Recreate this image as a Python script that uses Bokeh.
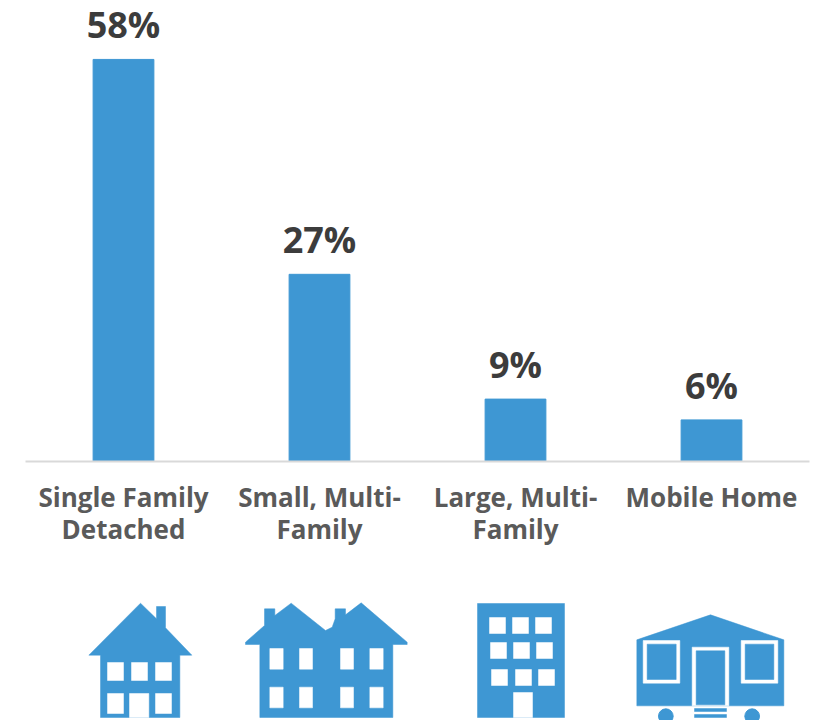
from bokeh.plotting import figure
from bokeh.layouts import column
from bokeh.models import ColumnDataSource, FactorRange, Range1d
from bokeh.core.properties import value
from bokeh.embed import file_html
from bokeh.resources import INLINE

categories = ["Single Family\nDetached", "Small, Multi-\nFamily", "Large, Multi-\nFamily", "Mobile Home"]
shares = [58, 27, 9, 6]
share_labels = ["58%", "27%", "9%", "6%"]

BLUE = "#3e97d3"
FONT = "Open Sans"
src = ColumnDataSource(dict(cat=categories, share=shares, lab=share_labels))

p = figure(width=821, height=580, x_range=FactorRange(*categories, range_padding=0, factor_padding=0),
           y_range=Range1d(0, 66.5), output_backend="svg", toolbar_location=None,
           min_border_left=25, min_border_right=12, min_border_top=0, min_border_bottom=119,
           outline_line_color=None, background_fill_color="white")
p.vbar(x="cat", top="share", width=0.31, source=src, color=BLUE)
p.text(x="cat", y="share", text="lab", source=src, text_align="center", text_baseline="bottom",
       y_offset=-10, text_font=value(FONT), text_font_style="bold", text_font_size="36px", text_color="#3c3c3c")
p.grid.visible = False
p.yaxis.visible = False
ax = p.xaxis[0]
ax.axis_line_color = "#d9d9d9"
ax.axis_line_width = 2
ax.major_tick_line_color = None
ax.minor_tick_line_color = None
ax.major_label_standoff = 11
ax.major_label_orientation = "horizontal"
ax.major_label_text_font = FONT
ax.major_label_text_font_style = "bold"
ax.major_label_text_font_size = "26px"
ax.major_label_text_line_height = 0.9
ax.major_label_text_color = "#5a5a5a"

q = figure(width=821, height=140, x_range=Range1d(25, 809), y_range=Range1d(720, 580),
           output_backend="svg", toolbar_location=None, min_border=0,
           min_border_left=25, min_border_right=12,
           outline_line_color=None, background_fill_color="white")
q.grid.visible = False
q.axis.visible = False


def poly(pts, origin_x, color):
    q.patch([origin_x + a / 3 for a, _ in pts], [590 + b / 3 for _, b in pts], color=color, line_color=color, line_width=0.5)


def rect(x0, x1, y0, y1, origin_x, color="white"):
    poly([(x0, y0), (x1, y0), (x1, y1), (x0, y1)], origin_x, color)


# single family house
poly([(85, 194), (240, 38), (288, 85), (288, 48), (315, 48), (315, 112), (394, 194), (358, 194),
      (358, 381), (120, 381), (120, 194)], 60, BLUE)
for x0, x1 in [(141, 189), (213, 261), (285, 333)]:
    rect(x0, x1, 216, 270, 60)
for x0, x1 in [(141, 189), (285, 333)]:
    rect(x0, x1, 309, 369, 60)
rect(207, 265, 309, 381, 60)

# small multi-family
poly([(555, 155), (612, 105), (612, 55), (643, 55), (643, 75), (692, 38), (795, 120), (815, 110),
      (824, 85), (824, 55), (855, 55), (855, 73), (902, 37), (1040, 155), (1040, 162), (997, 162),
      (997, 381), (598, 381), (598, 162), (555, 162)], 60, BLUE)
for x0, x1 in [(628, 668), (717, 756), (840, 879), (928, 968)]:
    rect(x0, x1, 174, 236, 60)
    rect(x0, x1, 290, 352, 60)

# large multi-family
rect(81, 342, 39, 381, 450, BLUE)
for (y0, y1), xs in [((81, 129), [117, 186, 255]), ((156, 204), [120, 189, 258]), ((237, 285), [123, 195, 264])]:
    for x0 in xs:
        rect(x0, x0 + 48, y0, y1, 450)
rect(189, 246, 306, 381, 450)

# mobile home
poly([(559, 148), (780, 73), (1000, 148), (1000, 346), (559, 346)], 450, BLUE)
rect(578, 688, 150, 278, 450)
rect(590, 677, 161, 267, 450, BLUE)
rect(872, 982, 150, 278, 450)
rect(884, 970, 161, 267, 450, BLUE)
rect(725, 835, 170, 346, 450)
rect(737, 823, 181, 343, 450, BLUE)
rect(732, 828, 354, 363, 450, BLUE)
rect(732, 828, 372, 381, 450, BLUE)
q.circle(x=[450 + 646 / 3, 450 + 905 / 3], y=[590 + 377 / 3] * 2, radius=22 / 3, color=BLUE)

open("out.html", "w").write(file_html(column(p, q, spacing=0), INLINE))
